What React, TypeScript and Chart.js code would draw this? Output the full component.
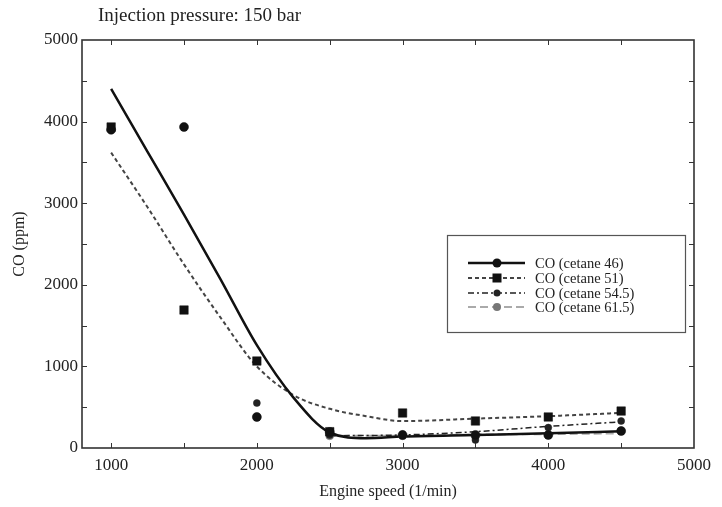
import React, { useEffect, useRef } from 'react';
import { Chart, registerables } from 'chart.js';
Chart.register(...registerables);

// ---- data ----
const speeds = [1000, 1500, 2000, 2500, 3000, 3500, 4000, 4500];
const co46 = [3900, 3934, 380, 196, 160, 160, 160, 208];
const co51 = [3934, 1691, 1066, 200, 429, 331, 380, 453];
const co545 = [null, null, 551, 160, 170, 98, 250, 331];
const co615 = [null, null, 380, 150, 150, 140, 160, 210];

// fitted curves
const fitX = [1000, 1250, 1500, 1750, 2000, 2250, 2500, 2750, 3000, 3500, 4000, 4500];
const fit46 = [4400, 3630, 2860, 2070, 1260, 620, 190, 120, 140, 160, 180, 205];
const fit51 = [3620, 2950, 2250, 1600, 1000, 650, 480, 390, 330, 360, 390, 430];
const fitX2 = [2500, 3000, 3500, 4000, 4500];
const fit545 = [150, 160, 200, 265, 320];
const fit615 = [150, 150, 165, 170, 180];

const xTicks = [1000, 2000, 3000, 4000, 5000];
const yTicks = [0, 1000, 2000, 3000, 4000, 5000];
const minorStep = 500;

const seriesNames = ['CO (cetane 46)', 'CO (cetane 51)', 'CO (cetane 54.5)', 'CO (cetane 61.5)'];
const titleText = 'Injection pressure: 150 bar';
const xTitle = 'Engine speed (1/min)';
const yTitle = 'CO (ppm)';

const FONT = '"Liberation Serif", "Times New Roman", serif';
const TXT = '#222';

const styles = [
  { color: '#111', width: 2.5, dash: [] as number[], pstyle: 'circle', pr: 4.5, pfill: '#111' },
  { color: '#444', width: 2, dash: [4, 3], pstyle: 'rect', pr: 6, pfill: '#111' },
  { color: '#222', width: 1.5, dash: [6, 3, 2, 3], pstyle: 'circle', pr: 3.5, pfill: '#222' },
  { color: '#aaa', width: 2, dash: [8, 4], pstyle: 'circle', pr: 4, pfill: '#777' },
];

function pts(xs: number[], ys: (number | null)[]) {
  const out: { x: number; y: number }[] = [];
  xs.forEach((x, i) => {
    const y = ys[i];
    if (y !== null && y !== undefined) out.push({ x, y });
  });
  return out;
}

const decor = {
  id: 'decor',
  afterDraw(chart: any) {
    const { ctx, chartArea: a, scales } = chart;
    const xs = scales.x, ys = scales.y;
    ctx.save();
    // frame
    ctx.strokeStyle = '#333';
    ctx.lineWidth = 1.6;
    ctx.setLineDash([]);
    ctx.strokeRect(a.left, a.top, a.right - a.left, a.bottom - a.top);
    // inward ticks
    ctx.lineWidth = 1;
    ctx.beginPath();
    for (let v = 1000; v < 5000; v += minorStep) {
      const p = Math.round(xs.getPixelForValue(v)) + 0.5;
      ctx.moveTo(p, a.bottom); ctx.lineTo(p, a.bottom - 5);
      ctx.moveTo(p, a.top); ctx.lineTo(p, a.top + 5);
    }
    for (let v = minorStep; v < 5000; v += minorStep) {
      const p = Math.round(ys.getPixelForValue(v)) + 0.5;
      ctx.moveTo(a.left, p); ctx.lineTo(a.left + 5, p);
      ctx.moveTo(a.right, p); ctx.lineTo(a.right - 5, p);
    }
    ctx.stroke();

    // texts
    ctx.fillStyle = TXT;
    ctx.font = `19px ${FONT}`;
    ctx.textAlign = 'left';
    ctx.textBaseline = 'alphabetic';
    ctx.fillText(titleText, 98, 21);
    ctx.textAlign = 'center';
    ctx.textBaseline = 'middle';
    ctx.font = `16px ${FONT}`;
    ctx.fillText(xTitle, (a.left + a.right) / 2, 492);
    ctx.save();
    ctx.translate(20, (a.top + a.bottom) / 2);
    ctx.rotate(-Math.PI / 2);
    ctx.fillText(yTitle, 0, 0);
    ctx.restore();

    // legend
    const bx = 447, by = 235, bw = 238, bh = 97;
    ctx.fillStyle = '#fff';
    ctx.fillRect(bx, by, bw, bh);
    ctx.strokeStyle = '#555';
    ctx.lineWidth = 1.2;
    ctx.strokeRect(bx + 0.5, by + 0.5, bw, bh);
    const rows = [263, 278, 293, 307];
    styles.forEach((s, i) => {
      const y = rows[i];
      ctx.strokeStyle = s.color;
      ctx.lineWidth = s.width;
      ctx.setLineDash(s.dash);
      ctx.beginPath();
      ctx.moveTo(468, y); ctx.lineTo(525, y);
      ctx.stroke();
      ctx.setLineDash([]);
      ctx.fillStyle = s.pfill;
      if (s.pstyle === 'rect') {
        ctx.fillRect(497 - 4.5, y - 4.5, 9, 9);
      } else {
        ctx.beginPath();
        ctx.arc(497, y, s.pr, 0, Math.PI * 2);
        ctx.fill();
      }
      ctx.fillStyle = TXT;
      ctx.font = `14.5px ${FONT}`;
      ctx.textAlign = 'left';
      ctx.textBaseline = 'middle';
      ctx.fillText(seriesNames[i], 535, y + 1);
    });
    ctx.restore();
  },
};

export default function App() {
  const ref = useRef<HTMLCanvasElement>(null);
  useEffect(() => {
    document.body.style.margin = '0';
    const pointSets = [co46, co51, co545, co615].map((ys, i) => ({
      label: seriesNames[i] + ' pts',
      data: pts(speeds, ys),
      showLine: false,
      pointStyle: styles[i].pstyle as any,
      pointRadius: styles[i].pr,
      pointBackgroundColor: styles[i].pfill,
      pointBorderColor: styles[i].pfill,
      pointBorderWidth: 0.5,
    }));
    const fits = [
      { xs: fitX, ys: fit46 },
      { xs: fitX, ys: fit51 },
      { xs: fitX2, ys: fit545 },
      { xs: fitX2, ys: fit615 },
    ];
    const lineSets = fits.map((f, i) => ({
      label: seriesNames[i],
      data: pts(f.xs, f.ys),
      showLine: true,
      pointRadius: 0,
      borderColor: styles[i].color,
      borderWidth: styles[i].width,
      borderDash: styles[i].dash,
      cubicInterpolationMode: 'monotone' as const,
      fill: false,
    }));
    const chart = new Chart(ref.current!, {
      type: 'scatter',
      data: { datasets: [...pointSets, ...lineSets] as any },
      options: {
        responsive: false,
        animation: false,
        devicePixelRatio: 1,
        layout: { padding: { left: 0, right: 28, top: 40, bottom: 0 } },
        plugins: { legend: { display: false }, tooltip: { enabled: false }, title: { display: false } },
        scales: {
          x: {
            type: 'linear',
            min: 800,
            max: 5000,
            afterBuildTicks: (s: any) => { s.ticks = xTicks.map((v) => ({ value: v })); },
            afterFit: (s: any) => { s.height = 59; },
            grid: { display: false, drawTicks: false },
            border: { display: false },
            ticks: { padding: 7, color: TXT, font: { family: FONT, size: 17 }, maxRotation: 0, autoSkip: false, callback: (v: any) => String(v) },
          },
          y: {
            type: 'linear',
            min: 0,
            max: 5000,
            afterBuildTicks: (s: any) => { s.ticks = yTicks.map((v) => ({ value: v })); },
            afterFit: (s: any) => { s.width = 82; },
            grid: { display: false, drawTicks: false },
            border: { display: false },
            ticks: { padding: 4, color: TXT, font: { family: FONT, size: 17 }, autoSkip: false, callback: (v: any) => String(v) },
          },
        },
      },
      plugins: [decor],
    });
    return () => chart.destroy();
  }, []);
  return (
    <div style={{ width: 722, height: 507 }}>
      <canvas ref={ref} width={722} height={507} style={{ display: 'block' }} />
    </div>
  );
}
